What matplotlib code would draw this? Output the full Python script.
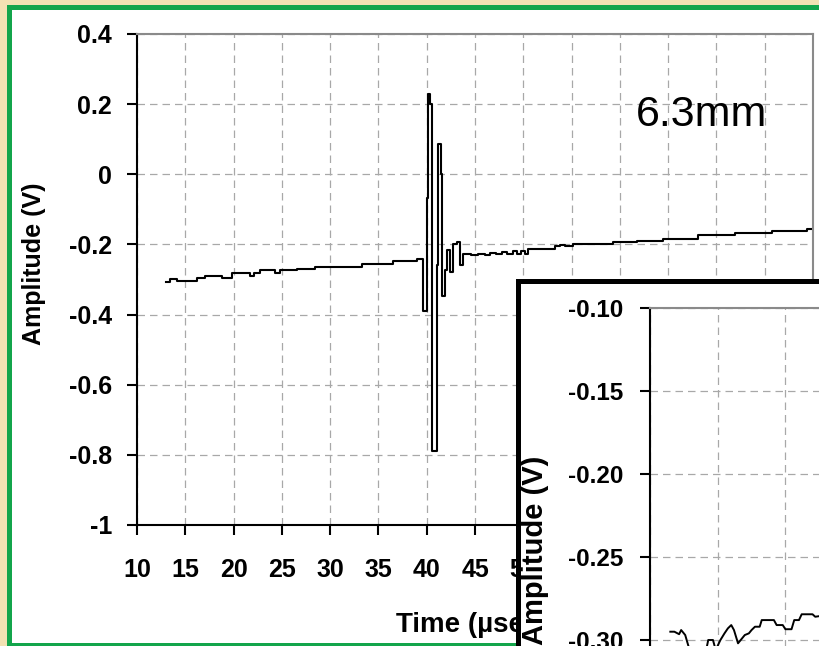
import matplotlib
matplotlib.use("Agg")
import matplotlib.pyplot as plt
from matplotlib.patches import Rectangle

# ---------------- data ----------------
main_time = [13.0, 13.4, 14.1, 16.2, 17.0, 18.8, 19.8, 21.7, 22.1, 22.7, 24.3, 24.8,
             26.6, 28.4, 33.3, 36.5, 39.0, 39.6, 40.0, 40.1, 40.3, 40.5, 41.05, 41.15,
             41.45, 41.6, 41.9, 42.1, 42.4, 42.7, 43.1, 43.4, 43.8, 44.6, 45.3, 46.0,
             46.6, 47.2, 47.8, 48.3, 48.9, 49.4, 49.8, 50.2, 50.5, 53.3, 53.8, 54.3,
             55.1, 59.3, 61.8, 64.5, 68.1, 71.9, 75.8, 79.4, 80.0]
main_amp = [-0.307, -0.300, -0.303, -0.297, -0.289, -0.297, -0.282, -0.291, -0.282, -0.272,
            -0.282, -0.274, -0.269, -0.265, -0.255, -0.246, -0.241, -0.389, -0.069, 0.228,
            0.200, -0.790, -0.260, 0.085, 0.000, -0.346, -0.274, -0.217, -0.278, -0.198,
            -0.193, -0.260, -0.226, -0.231, -0.226, -0.229, -0.224, -0.228, -0.222, -0.226,
            -0.219, -0.226, -0.219, -0.227, -0.212, -0.205, -0.201, -0.205, -0.198, -0.193,
            -0.189, -0.184, -0.174, -0.168, -0.162, -0.157, -0.157]

inset_time = [13.0, 13.6, 14.3, 14.6, 15.2, 15.7, 16.5, 18.3, 18.6, 19.3, 19.7, 20.4,
              21.0, 21.5, 22.0, 22.4, 23.0, 23.6, 24.0, 24.6, 25.0, 25.5, 26.2, 26.5,
              28.3, 28.7, 29.6, 30.0, 30.9, 31.3, 32.0, 32.4, 34.0, 34.4, 36.0]
inset_amp = [-0.2950, -0.2950, -0.2965, -0.2940, -0.2970, -0.3040, -0.3060, -0.3060,
             -0.3000, -0.3000, -0.3060, -0.3000, -0.2960, -0.2930, -0.2910, -0.2940,
             -0.3020, -0.2990, -0.2970, -0.2960, -0.2940, -0.2920, -0.2920, -0.2880,
             -0.2880, -0.2910, -0.2910, -0.2935, -0.2935, -0.2880, -0.2880, -0.2845,
             -0.2845, -0.2860, -0.2850]

main_xticks = list(range(10, 81, 5))
main_yticks = [-1, -0.8, -0.6, -0.4, -0.2, 0, 0.2, 0.4]
main_yticklabels = ["-1", "-0.8", "-0.6", "-0.4", "-0.2", "0", "0.2", "0.4"]
inset_xticks = list(range(10, 81, 10))
inset_yticks = [-0.40, -0.35, -0.30, -0.25, -0.20, -0.15, -0.10]
inset_yticklabels = ["-0.40", "-0.35", "-0.30", "-0.25", "-0.20", "-0.15", "-0.10"]

annotation = "6.3mm"
xlabel = "Time (µsec)"
ylabel = "Amplitude (V)"

# ---------------- figure ----------------
W, H = 819, 646
plt.rcParams['font.family'] = ['Liberation Sans', 'DejaVu Sans']
fig = plt.figure(figsize=(W / 100, H / 100), dpi=100, facecolor='white')


def fx(px):
    return px / W


def fy(py):
    return 1 - py / H


def rect_px(x0, y0, x1, y1, color, z=0.5):
    fig.add_artist(Rectangle((fx(x0), fy(y1)), fx(x1) - fx(x0), fy(y0) - fy(y1),
                             transform=fig.transFigure, facecolor=color,
                             edgecolor='none', zorder=z))


beige = '#F2E2B3'
green = '#13A54B'
rect_px(0, 0, W, 5, beige)
rect_px(0, 0, 7, H, beige)
rect_px(7, 5, W, 10, green)
rect_px(7, 5, 12, H, green)
rect_px(7, 643, W, H, green)

grid_kw = dict(color='#a8a8a8', linestyle=(0, (6, 4)), linewidth=0.9)

# main axes
ax = fig.add_axes([fx(137), fy(525), fx(813) - fx(137), fy(34) - fy(525)])
ax.set_zorder(0)
ax.plot(main_time, main_amp, drawstyle='steps-post', color='black', lw=1.5)
ax.set_xlim(10, 80)
ax.set_ylim(-1, 0.4)
ax.set_xticks(main_xticks)
ax.set_xticklabels([str(t) for t in main_xticks])
ax.set_yticks(main_yticks)
ax.set_yticklabels(main_yticklabels)
ax.grid(True, **grid_kw)
for s in ['left', 'bottom']:
    ax.spines[s].set_color('black')
    ax.spines[s].set_linewidth(1.5)
for s in ['top', 'right']:
    ax.spines[s].set_color('#8a8a8a')
    ax.spines[s].set_linewidth(1.5)
ax.tick_params(axis='x', direction='out', length=7, width=1.5, pad=17,
               labelsize=18)
ax.tick_params(axis='y', direction='out', length=7, width=1.5, pad=11,
               labelsize=18)
for lab in ax.get_xticklabels() + ax.get_yticklabels():
    lab.set_fontweight('bold')

fig.text(fx(702), fy(126), annotation, fontsize=31, ha='center', va='baseline')
fig.text(fx(472), fy(632), xlabel, fontsize=20, fontweight='bold',
         ha='center', va='baseline', zorder=0.1)
fig.text(fx(34), fy(264), ylabel, fontsize=18, fontweight='bold',
         ha='center', va='center', rotation=90)

# inset frame
fig.add_artist(Rectangle((fx(517.5), fy(1000)), fx(1200) - fx(517.5),
                         fy(281.5) - fy(1000), transform=fig.transFigure,
                         facecolor='white', edgecolor='black', lw=3.6, zorder=1))

# inset axes
ins = fig.add_axes([fx(650), fy(308 + 498), 474 / W, 498 / H])
ins.set_zorder(2)
ins.plot(inset_time, inset_amp, color='black', lw=1.4)
ins.set_xlim(10, 80)
ins.set_ylim(-0.40, -0.10)
ins.set_xticks(inset_xticks)
ins.set_yticks(inset_yticks)
ins.set_yticklabels(inset_yticklabels)
ins.grid(True, **grid_kw)
ins.spines['left'].set_color('black')
ins.spines['left'].set_linewidth(1.5)
for s in ['top', 'right', 'bottom']:
    ins.spines[s].set_color('#8a8a8a')
    ins.spines[s].set_linewidth(1.5)
ins.tick_params(axis='y', direction='out', length=7, width=1.5, pad=12,
                labelsize=17.5)
ins.tick_params(axis='x', direction='out', length=7, width=1.5, labelsize=17.5)
for lab in ins.get_yticklabels() + ins.get_xticklabels():
    lab.set_fontweight('bold')
fig.text(fx(535), fy(550), ylabel, fontsize=21, fontweight='bold',
         ha='center', va='center', rotation=90, zorder=3)

fig.savefig('out.png', dpi=100, facecolor='white')
